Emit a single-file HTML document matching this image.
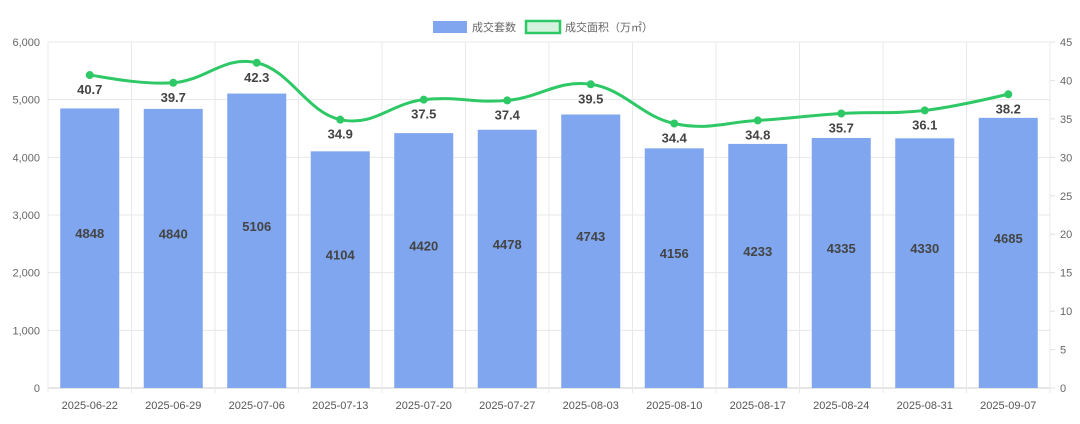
<!DOCTYPE html>
<html><head><meta charset="utf-8"><style>
html,body{margin:0;padding:0;background:#fff;}
svg{display:block;font-family:"Liberation Sans","Noto Sans CJK SC",sans-serif;}
</style></head><body>
<svg id="c" width="1080" height="424" xmlns="http://www.w3.org/2000/svg">
<g id="legend" font-size="11" fill="#666">
<rect x="433" y="21" width="34" height="12" fill="#7fa6ee"/>
<text x="472" y="31">成交套数</text>
<rect x="526" y="21" width="34" height="12" fill="#d4f2de" stroke="#2ec866" stroke-width="2.5"/>
<text x="565" y="31">成交面积（万㎡）</text>
</g>
</svg>
<script>
(function(){
var s=document.getElementById('c'),ns='http://www.w3.org/2000/svg';
function el(t,a,txt){var e=document.createElementNS(ns,t);for(var k in a)e.setAttribute(k,a[k]);if(txt!=null)e.textContent=txt;s.appendChild(e);return e;}
var L=48,R=1050,T=42,B=388,n=12,w=(R-L)/n;
var dates=['2025-06-22','2025-06-29','2025-07-06','2025-07-13','2025-07-20','2025-07-27','2025-08-03','2025-08-10','2025-08-17','2025-08-24','2025-08-31','2025-09-07'];
var bars=[4848,4840,5106,4104,4420,4478,4743,4156,4233,4335,4330,4685];
var line=[40.7,39.7,42.3,34.9,37.5,37.4,39.5,34.4,34.8,35.7,36.1,38.2];
for(var i=0;i<=6;i++){var y=B-i*(B-T)/6;el('line',{x1:L,x2:R,y1:y,y2:y,stroke:i==0?'#ccc':'#e8e8e8'});
el('text',{x:40,y:y+4,'text-anchor':'end','font-size':11,fill:'#666'},(i*1000).toLocaleString('en-US'));}
for(var i=0;i<=9;i++){var y=B-i*(B-T)/9;el('line',{x1:R,x2:R+5,y1:y,y2:y,stroke:'#e0e0e0'});
el('text',{x:1060,y:y+4,'font-size':11,fill:'#666'},String(i*5));}
for(var i=0;i<=n;i++){var x=L+i*w;el('line',{x1:x,x2:x,y1:T,y2:B+5,stroke:'#e8e8e8'});}
var pts=[];
for(var i=0;i<n;i++){var cx=L+w*(i+.5),by=B-bars[i]*(B-T)/6000;
el('rect',{x:cx-29.5,y:by,width:59,height:B-by,fill:'#7fa6ee'});
el('text',{x:cx,y:(by+B)/2-10,'text-anchor':'middle','font-size':13,'font-weight':'bold',fill:'#444'},String(bars[i]));
el('text',{x:cx,y:B+21,'text-anchor':'middle','font-size':11,fill:'#555'},dates[i]);
pts.push([cx,B-line[i]*(B-T)/45]);}
var d='M'+pts[0][0]+','+pts[0][1],k=0.2;
for(var i=0;i<n-1;i++){var p0=pts[Math.max(i-1,0)],p1=pts[i],p2=pts[i+1],p3=pts[Math.min(i+2,n-1)];
var a=(i==0?2:1),b=(i==n-2?2:1);
var c1=[p1[0]+(p2[0]-p0[0])*k/a,p1[1]+(p2[1]-p0[1])*k/a];
var c2=[p2[0]-(p3[0]-p1[0])*k/b,p2[1]-(p3[1]-p1[1])*k/b];
d+=' C'+c1[0]+','+c1[1]+' '+c2[0]+','+c2[1]+' '+p2[0]+','+p2[1];}
el('path',{d:d,fill:'none',stroke:'#2ec866','stroke-width':3});
for(var i=0;i<n;i++){el('circle',{cx:pts[i][0],cy:pts[i][1],r:4,fill:'#2ec866'});
el('text',{x:pts[i][0],y:pts[i][1]+19,'text-anchor':'middle','font-size':13,'font-weight':'bold',fill:'#444'},line[i].toFixed(1));}
})();
</script>
</body></html>
